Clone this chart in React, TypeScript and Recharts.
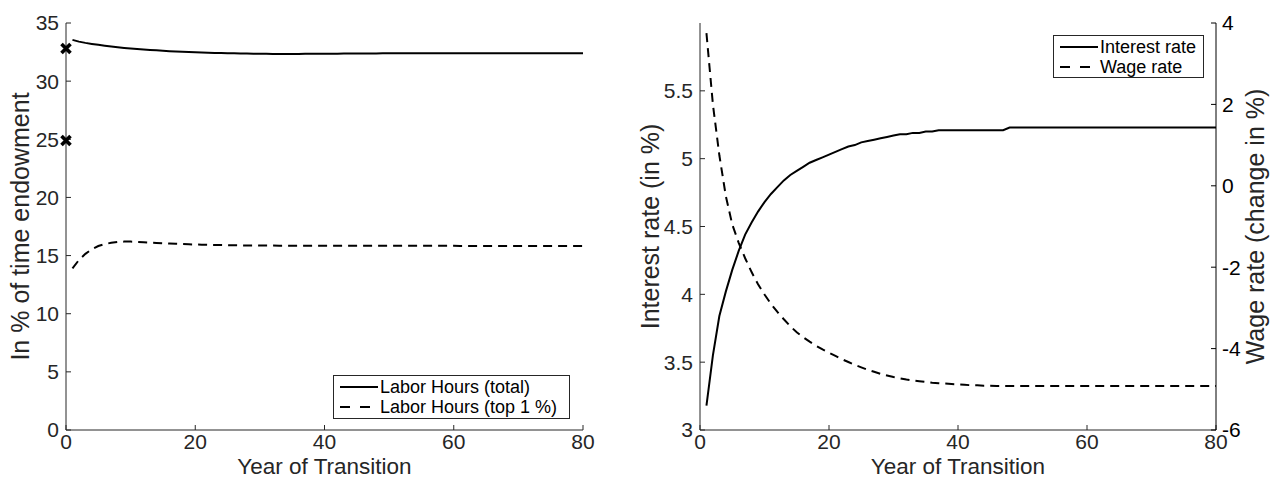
import React from "react";
import { ComposedChart, Line, Scatter, XAxis, YAxis, Legend } from "recharts";

const INK = "#262626";
const FONT = '"Liberation Sans", Arial, Helvetica, sans-serif';

// years of the transition path
const years = [
  1, 2, 3, 4, 5, 6, 7, 8, 9, 10, 11, 12, 13, 14, 15, 16, 17, 18, 19, 20,
  21, 22, 23, 24, 25, 26, 27, 28, 29, 30, 31, 32, 33, 34, 35, 36, 37, 38, 39, 40,
  41, 42, 43, 44, 45, 46, 47, 48, 49, 50, 51, 52, 53, 54, 55, 56, 57, 58, 59, 60,
  61, 62, 63, 64, 65, 66, 67, 68, 69, 70, 71, 72, 73, 74, 75, 76, 77, 78, 79, 80,
];

// left panel: labor hours, % of time endowment
const laborTotal = [
  33.55, 33.4, 33.29, 33.2, 33.12, 33.05, 32.98, 32.92, 32.86, 32.81,
  32.76, 32.72, 32.68, 32.65, 32.61, 32.58, 32.55, 32.53, 32.51, 32.49,
  32.47, 32.45, 32.43, 32.42, 32.4, 32.39, 32.38, 32.37, 32.36, 32.35,
  32.35, 32.34, 32.34, 32.34, 32.34, 32.34, 32.35, 32.35, 32.35, 32.36,
  32.36, 32.36, 32.37, 32.37, 32.37, 32.38, 32.38, 32.38, 32.39, 32.39,
  32.39, 32.39, 32.39, 32.39, 32.39, 32.4, 32.4, 32.4, 32.4, 32.4,
  32.4, 32.4, 32.4, 32.4, 32.4, 32.4, 32.4, 32.4, 32.4, 32.4,
  32.4, 32.4, 32.4, 32.4, 32.4, 32.4, 32.4, 32.4, 32.4, 32.4,
];
const laborTop1 = [
  13.9, 14.62, 15.15, 15.55, 15.82, 15.99, 16.1, 16.17, 16.2, 16.2,
  16.18, 16.15, 16.12, 16.09, 16.06, 16.03, 16.01, 15.99, 15.97, 15.95,
  15.94, 15.92, 15.91, 15.9, 15.89, 15.88, 15.88, 15.87, 15.87, 15.86,
  15.86, 15.86, 15.85, 15.85, 15.85, 15.85, 15.85, 15.85, 15.85, 15.85,
  15.84, 15.84, 15.84, 15.84, 15.84, 15.84, 15.84, 15.84, 15.84, 15.84,
  15.84, 15.84, 15.84, 15.84, 15.84, 15.84, 15.84, 15.84, 15.84, 15.84,
  15.83, 15.83, 15.83, 15.83, 15.83, 15.83, 15.83, 15.83, 15.83, 15.83,
  15.83, 15.83, 15.83, 15.83, 15.83, 15.83, 15.83, 15.83, 15.83, 15.83,
];
// initial steady state markers (year 0)
const startYears = [0, 0];
const startHours = [32.8, 24.9];

// right panel: interest rate (in %) and wage rate (change in %)
const interestRate = [
  3.18, 3.55, 3.84, 4.02, 4.18, 4.32, 4.44, 4.53, 4.61, 4.68,
  4.74, 4.79, 4.84, 4.88, 4.91, 4.94, 4.97, 4.99, 5.01, 5.03,
  5.05, 5.07, 5.09, 5.1, 5.12, 5.13, 5.14, 5.15, 5.16, 5.17,
  5.18, 5.18, 5.19, 5.19, 5.2, 5.2, 5.21, 5.21, 5.21, 5.21,
  5.21, 5.21, 5.21, 5.21, 5.21, 5.21, 5.21, 5.23, 5.23, 5.23,
  5.23, 5.23, 5.23, 5.23, 5.23, 5.23, 5.23, 5.23, 5.23, 5.23,
  5.23, 5.23, 5.23, 5.23, 5.23, 5.23, 5.23, 5.23, 5.23, 5.23,
  5.23, 5.23, 5.23, 5.23, 5.23, 5.23, 5.23, 5.23, 5.23, 5.23,
];
const wageRate = [
  3.75, 2.0, 0.75, -0.25, -0.95, -1.4, -1.78, -2.12, -2.42, -2.67,
  -2.9, -3.1, -3.28, -3.45, -3.6, -3.72, -3.83, -3.93, -4.02, -4.1,
  -4.18, -4.26, -4.33, -4.4, -4.46, -4.52, -4.57, -4.62, -4.66, -4.7,
  -4.73, -4.76, -4.78, -4.8, -4.82, -4.84, -4.85, -4.86, -4.87, -4.88,
  -4.89, -4.9, -4.9, -4.91, -4.91, -4.92, -4.92, -4.92, -4.92, -4.92,
  -4.92, -4.92, -4.92, -4.92, -4.92, -4.92, -4.92, -4.92, -4.92, -4.92,
  -4.92, -4.92, -4.92, -4.92, -4.92, -4.92, -4.92, -4.92, -4.92, -4.92,
  -4.92, -4.92, -4.92, -4.92, -4.92, -4.92, -4.92, -4.92, -4.92, -4.92,
];

const xTicks = [0, 20, 40, 60, 80];
const hoursTicks = [0, 5, 10, 15, 20, 25, 30, 35];
const interestTicks = [3, 3.5, 4, 4.5, 5, 5.5];
const wageTicks = [-6, -4, -2, 0, 2, 4];

const hoursNames = ["Labor Hours (total)", "Labor Hours (top 1 %)"];
const rateNames = ["Interest rate", "Wage rate"];

const hoursRows = years.map((year, i) => ({ year, total: laborTotal[i], top1: laborTop1[i] }));
const markRows = startYears.map((year, i) => ({ year, value: startHours[i] }));
const rateRows = years.map((year, i) => ({ year, interest: interestRate[i], wage: wageRate[i] }));

const tickStyle = { fill: INK, fontSize: 21 };

const YTitle = (props: any) => {
  const { viewBox, title, shift } = props;
  const cx = viewBox.x + shift;
  const cy = viewBox.y + viewBox.height / 2;
  return (
    <text x={cx} y={cy} transform={`rotate(-90 ${cx} ${cy})`} textAnchor="middle"
      dominantBaseline="central" fontSize={25} fill={INK}>
      {title}
    </text>
  );
};

const XTitle = (props: any) => {
  const { viewBox, title } = props;
  return (
    <text x={viewBox.x + viewBox.width / 2} y={viewBox.y + 44} textAnchor="middle" fontSize={22.5} fill={INK}>
      {title}
    </text>
  );
};

const CrossMark = (props: any) => {
  const { cx, cy } = props;
  const r = 4.5;
  return (
    <path d={`M${cx - r},${cy - r}L${cx + r},${cy + r}M${cx - r},${cy + r}L${cx + r},${cy - r}`}
      stroke="#000" strokeWidth={3.6} fill="none" />
  );
};

const LegendBox = (props: any) => {
  const order: string[] = props.order || [];
  const items = (props.payload || [])
    .filter((e: any) => order.includes(e.value))
    .sort((a: any, b: any) => order.indexOf(a.value) - order.indexOf(b.value));
  return (
    <div style={{ border: `1px solid ${INK}`, background: "#fff", boxSizing: "border-box",
      width: "100%", height: "100%", padding: "1px 0", fontFamily: FONT }}>
      {items.map((entry: any) => (
        <div key={entry.value} style={{ display: "flex", alignItems: "center", height: 20 }}>
          <svg width={46} height={20} style={{ flex: "none" }}>
            <line x1={6} x2={44} y1={10} y2={10} stroke="#000" strokeWidth={2}
              strokeDasharray={entry.payload?.strokeDasharray ? "10 10" : undefined} />
          </svg>
          <span style={{ fontSize: 18, lineHeight: "20px", color: "#000", whiteSpace: "nowrap" }}>
            {entry.value}
          </span>
        </div>
      ))}
    </div>
  );
};

const HoursPanel = () => (
  <ComposedChart width={620} height={479} data={hoursRows}
    margin={{ top: 23, right: 37, bottom: 0, left: 0 }} style={{ fontFamily: FONT }}>
    <XAxis dataKey="year" type="number" domain={[0, 80]} ticks={xTicks} interval={0}
      stroke={INK} tick={tickStyle} tickSize={-5} tickMargin={9.5} height={49}
      label={<XTitle title="Year of Transition" />} />
    <XAxis xAxisId="top" orientation="top" dataKey="year" type="number" domain={[0, 80]}
      ticks={xTicks} interval={0} stroke={INK} tick={false} tickSize={-5} height={0} />
    <YAxis type="number" domain={[0, 35]} ticks={hoursTicks} interval={0} stroke={INK}
      tick={tickStyle} tickSize={-5} tickMargin={12} width={66}
      label={<YTitle title="In % of time endowment" shift={20} />} />
    <YAxis yAxisId="box" orientation="right" type="number" domain={[0, 35]} ticks={hoursTicks}
      interval={0} stroke={INK} tick={false} tickSize={-5} width={0} />
    <Line type="linear" dataKey="total" name={hoursNames[0]} stroke="#000"
      strokeWidth={2} dot={false} isAnimationActive={false} />
    <Line type="linear" dataKey="top1" name={hoursNames[1]} stroke="#000"
      strokeWidth={2} strokeDasharray="9 6" dot={false} isAnimationActive={false} />
    <Scatter data={markRows} dataKey="value" shape={<CrossMark />} legendType="none"
      isAnimationActive={false} />
    <Legend layout="horizontal" verticalAlign="middle" align="center"
      content={<LegendBox order={hoursNames} />}
      wrapperStyle={{ left: 333, top: 375, width: 237, height: 44 }} />
  </ComposedChart>
);

const RatesPanel = () => (
  <ComposedChart width={661} height={479} data={rateRows}
    margin={{ top: 23, right: 0, bottom: 0, left: 0 }} style={{ fontFamily: FONT }}>
    <XAxis dataKey="year" type="number" domain={[0, 80]} ticks={xTicks} interval={0}
      stroke={INK} tick={tickStyle} tickSize={-5} tickMargin={9.5} height={49}
      label={<XTitle title="Year of Transition" />} />
    <XAxis xAxisId="top" orientation="top" dataKey="year" type="number" domain={[0, 80]}
      ticks={xTicks} interval={0} stroke={INK} tick={false} tickSize={-5} height={0} />
    <YAxis type="number" domain={[3, 6]} ticks={interestTicks} interval={0} stroke={INK}
      tick={tickStyle} tickSize={-5} tickMargin={12} width={80}
      label={<YTitle title="Interest rate (in %)" shift={30} />} />
    <YAxis yAxisId="mirror" orientation="right" type="number" domain={[3, 6]} ticks={interestTicks}
      interval={0} stroke={INK} tick={false} tickSize={-5} width={0} />
    <YAxis yAxisId="wage" orientation="right" type="number" domain={[-6, 4]} ticks={wageTicks}
      interval={0} stroke="#000" tick={{ fill: "#000", fontSize: 21 }} tickSize={-5} tickMargin={11}
      width={65} label={<YTitle title="Wage rate (change in %)" shift={39} />} />
    <Line type="linear" dataKey="interest" name={rateNames[0]} stroke="#000"
      strokeWidth={2} dot={false} isAnimationActive={false} />
    <Line type="linear" dataKey="wage" yAxisId="wage" name={rateNames[1]} stroke="#000"
      strokeWidth={2} strokeDasharray="9 6" dot={false} isAnimationActive={false} />
    <Legend layout="horizontal" verticalAlign="middle" align="center"
      content={<LegendBox order={rateNames} />}
      wrapperStyle={{ left: 433, top: 35, width: 151, height: 43 }} />
  </ComposedChart>
);

export default function App() {
  return (
    <div style={{ position: "absolute", left: 0, top: 0, width: 1281, height: 479, background: "#fff" }}>
      <div style={{ position: "absolute", left: 0, top: 0 }}>
        <HoursPanel />
      </div>
      <div style={{ position: "absolute", left: 620, top: 0 }}>
        <RatesPanel />
      </div>
    </div>
  );
}
